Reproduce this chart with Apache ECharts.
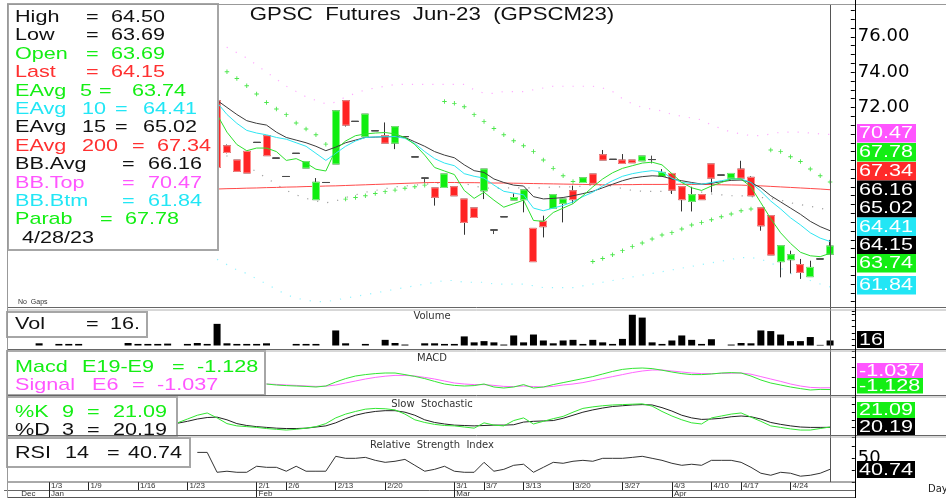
<!DOCTYPE html>
<html>
<head>
<meta charset="utf-8">
<script src="https://cdn.jsdelivr.net/npm/echarts@6.0.0/dist/echarts.min.js"></script>
<style>html,body{margin:0;padding:0;background:#fff;overflow:hidden}#chart{width:946px;height:498px}</style>
</head>
<body>
<div id="chart"></div>
<script>
// ================= DATA =================
const dates = ['12/26','12/27','12/28','12/29',
 '1/3','1/4','1/5','1/6','1/9','1/10','1/11','1/12','1/13','1/16','1/17','1/18','1/19','1/20','1/23','1/24','1/25','1/26','1/27','1/30','1/31',
 '2/1','2/2','2/3','2/6','2/7','2/8','2/9','2/10','2/13','2/14','2/15','2/16','2/17','2/20','2/21','2/22','2/23','2/24','2/27','2/28',
 '3/1','3/2','3/3','3/7','3/8','3/9','3/10','3/13','3/14','3/15','3/16','3/17','3/20','3/21','3/22','3/23','3/24','3/27','3/28','3/29','3/30','3/31',
 '4/3','4/4','4/5','4/7','4/10','4/11','4/12','4/17','4/18','4/19','4/20','4/21','4/24','4/25','4/26','4/27','4/28',
 '5/2','5/3'];
const dayTickLabels = ['1/3','1/9','1/16','1/23','2/1','2/6','2/13','2/20','3/1','3/7','3/13','3/20','3/27','4/3','4/10','4/17','4/24'];
const monthAnchors = ['12/27','1/3','2/1','3/1','4/3'];
const monthNames = ['Dec','Jan','Feb','Mar','Apr'];
const priceTickLabels = [72, 74, 76];
const rsiTickLabels = [50];

const priceStart = '1/26';
const candleOpen = [72.38,69.83,69.02,69.51,70.02,70.40,69.13,68.09,69.40,68.57,
 66.78,67.75,68.80,72.38,71.21,70.34,70.68,70.40,69.98,70.35,
 69.20,68.00,67.44,67.47,67.51,66.81,66.31,67.28,65.06,65.81,
 66.76,66.78,65.15,65.55,66.28,66.57,67.28,67.75,68.23,69.32,
 69.06,69.02,69.02,68.98,69.05,68.09,68.26,67.51,66.68,67.06,
 68.80,68.17,68.00,68.51,68.04,66.31,65.87,63.27,63.38,63.10,
 62.42,63.42,63.69];
const candleClose = [68.60,69.45,68.38,68.29,70.02,69.27,69.13,68.09,69.40,68.93,
 67.76,67.75,71.81,71.00,71.21,71.62,70.68,69.98,70.91,70.35,
 69.20,68.00,66.91,68.23,67.00,65.49,65.77,68.51,65.06,65.81,
 66.90,67.33,63.27,65.25,67.06,66.81,66.78,68.02,67.70,69.02,
 69.06,68.83,68.87,69.25,69.05,68.32,67.32,66.78,67.06,66.78,
 68.00,68.17,68.26,68.00,67.00,65.30,63.65,64.17,63.66,62.66,
 62.94,63.42,64.15];
const candleLow = [68.60,69.40,68.38,68.29,70.02,69.27,69.13,68.09,69.40,68.57,
 66.78,67.75,68.80,70.92,71.21,70.34,70.68,69.98,69.64,70.35,
 69.20,67.75,66.44,67.47,67.00,64.79,65.77,66.81,64.83,65.81,
 66.76,66.06,63.27,64.64,66.28,65.49,66.57,67.75,67.70,69.02,
 69.06,68.83,68.87,68.98,68.83,68.09,67.10,66.11,66.11,66.78,
 67.19,68.17,68.00,68.00,67.00,65.02,63.65,62.38,62.60,62.29,
 62.42,63.42,63.69];
const candleHigh = [72.40,69.90,69.02,69.51,70.02,70.40,69.13,68.09,69.40,68.93,
 68.00,67.75,71.85,72.38,71.21,71.62,70.68,71.15,70.91,70.35,
 69.20,68.00,67.44,68.23,67.51,66.81,66.31,68.51,65.06,65.81,
 67.13,67.33,65.15,65.87,67.06,66.81,67.57,68.02,68.23,69.59,
 69.06,69.36,69.02,69.25,69.27,68.51,68.26,67.51,67.51,67.06,
 68.80,68.17,68.26,68.98,68.10,66.31,65.87,64.17,63.89,63.42,
 63.32,63.42,64.50];
const ema5 = [71.60,70.60,69.90,69.55,69.70,69.70,69.50,69.00,69.10,68.85,
 68.50,68.40,69.60,70.10,70.40,70.50,70.55,70.58,70.50,70.30,
 69.90,69.30,68.60,68.40,68.20,67.30,66.85,67.20,66.75,66.35,
 66.55,66.75,65.60,65.55,66.05,66.30,66.55,67.00,67.50,67.95,
 68.30,68.55,68.70,68.85,68.90,68.75,68.25,67.75,67.45,67.30,
 67.55,67.75,67.95,67.95,67.50,66.60,65.70,64.90,64.30,63.80,
 63.60,63.55,63.74];
const ema10 = [72.28,71.60,71.10,70.70,70.55,70.45,70.30,70.20,70.00,69.80,
 69.40,69.00,69.40,69.80,70.10,70.30,70.33,70.34,70.35,70.25,
 69.95,69.50,69.10,68.85,68.70,68.25,68.10,68.00,67.60,67.25,
 67.15,67.05,66.30,66.15,66.30,66.45,66.65,66.95,67.20,67.55,
 67.85,68.10,68.25,68.35,68.42,68.35,68.00,67.75,67.70,67.65,
 67.75,67.85,67.95,67.95,67.75,67.25,66.70,66.25,65.75,65.35,
 64.90,64.60,64.41];
const ema15 = [72.40,72.00,71.60,71.25,71.10,71.00,70.60,70.30,70.15,70.00,
 69.80,69.55,69.75,70.00,70.15,70.30,70.32,70.34,70.35,70.30,
 70.05,69.80,69.50,69.30,69.15,68.75,68.42,68.32,67.95,67.75,
 67.60,67.55,66.95,66.82,66.85,66.90,67.00,67.12,67.25,67.45,
 67.65,67.85,68.00,68.08,68.13,68.10,67.95,67.85,67.75,67.66,
 67.70,67.80,67.87,67.89,67.75,67.45,67.00,66.65,66.30,65.95,
 65.55,65.25,65.02];
const ema200 = [67.38,67.40,67.41,67.43,67.44,67.46,67.47,67.49,67.50,67.52,
 67.53,67.55,67.56,67.58,67.60,67.62,67.64,67.66,67.68,67.70,
 67.72,67.74,67.75,67.75,67.75,67.74,67.74,67.73,67.72,67.72,
 67.71,67.70,67.69,67.68,67.67,67.66,67.65,67.64,67.63,67.62,
 67.62,67.63,67.63,67.64,67.64,67.64,67.65,67.65,67.64,67.64,
 67.63,67.62,67.61,67.60,67.58,67.56,67.53,67.50,67.47,67.44,
 67.41,67.38,67.34];
const bbTop = [75.60,75.40,75.10,74.80,74.40,74.00,73.60,73.20,72.90,72.60,
 72.40,72.20,72.30,72.60,72.80,73.00,73.10,73.20,73.30,73.30,
 73.30,73.30,73.30,73.30,73.30,73.30,73.00,72.80,72.80,72.90,
 72.90,72.90,73.00,73.10,73.20,73.20,73.20,73.20,73.20,73.10,
 72.90,72.50,72.20,72.00,71.90,71.80,71.60,71.50,71.40,71.30,
 71.00,70.80,70.60,70.50,70.40,70.40,70.50,70.60,70.60,70.60,
 70.55,70.50,70.47];
const bbAvg = [69.50,69.25,68.95,68.70,68.35,68.00,67.65,67.30,67.05,66.85,
 66.70,66.60,66.70,66.90,67.05,67.20,67.30,67.40,67.50,67.55,
 67.60,67.65,67.70,67.75,67.75,67.70,67.55,67.45,67.40,67.45,
 67.45,67.45,67.45,67.45,67.50,67.50,67.50,67.55,67.60,67.60,
 67.55,67.40,67.30,67.25,67.25,67.25,67.20,67.20,67.20,67.20,
 67.10,67.05,67.00,67.00,66.95,66.90,66.85,66.75,66.60,66.50,
 66.40,66.30,66.16];
const bbBtm = [63.40,63.10,62.80,62.60,62.30,62.00,61.70,61.40,61.20,61.10,
 61.00,61.00,61.10,61.20,61.30,61.40,61.50,61.60,61.70,61.80,
 61.90,62.00,62.10,62.20,62.20,62.10,62.10,62.10,62.00,62.00,
 62.00,62.00,61.90,61.80,61.80,61.80,61.80,61.90,62.00,62.10,
 62.20,62.30,62.40,62.50,62.60,62.70,62.80,62.90,63.00,63.10,
 63.20,63.30,63.40,63.50,63.50,63.40,63.20,62.90,62.60,62.40,
 62.20,62.00,61.84];
const parab = [null,74.02,73.64,73.23,72.76,72.28,71.91,71.59,71.12,70.78,
 70.45,69.92,null,66.81,66.90,67.00,67.13,67.23,67.32,67.42,
 67.51,67.60,null,72.34,72.23,72.04,71.59,71.21,70.81,70.45,
 70.11,69.83,69.51,69.02,68.55,68.13,67.81,null,63.28,63.45,
 63.66,63.89,64.12,64.32,64.55,64.78,64.91,65.12,65.34,65.49,
 65.64,65.81,65.97,66.15,66.25,null,69.59,69.51,69.21,68.94,
 68.51,68.13,67.78];

const volStart = '12/29';
const volume = [7,0,5,5,5,0,0,0,0,8,
 5,5,5,6,0,5,8,5,69,7,
 5,5,5,7,0,0,5,5,5,0,
 48,7,0,5,0,18,8,3,0,7,
 7,5,5,29,10,14,10,3,32,10,
 35,16,7,16,18,5,18,10,5,21,
 98,89,10,5,16,32,18,5,20,0,
 3,8,7,48,46,35,14,14,27,2,
 16];

const macdStart = '2/2';
const macdLine = [-0.85,-0.90,-0.93,-0.95,-0.97,-1.00,-0.95,-0.75,-0.58,-0.45,
 -0.38,-0.33,-0.30,-0.30,-0.38,-0.47,-0.58,-0.72,-0.85,-0.92,
 -0.95,-0.93,-0.85,-1.00,-1.05,-1.00,-0.88,-1.05,-1.00,-0.88,
 -0.78,-0.68,-0.58,-0.48,-0.35,-0.22,-0.12,-0.07,-0.05,-0.08,
 -0.16,-0.25,-0.33,-0.38,-0.38,-0.35,-0.30,-0.28,-0.30,-0.45,
 -0.65,-0.80,-0.90,-1.00,-1.08,-1.15,-1.12,-1.128];
const macdSignal = [-0.85,-0.87,-0.90,-0.92,-0.95,-0.97,-0.96,-0.90,-0.80,-0.70,
 -0.60,-0.52,-0.46,-0.42,-0.42,-0.45,-0.52,-0.60,-0.70,-0.80,
 -0.85,-0.88,-0.88,-0.92,-0.97,-0.98,-0.95,-0.98,-1.00,-0.97,
 -0.90,-0.85,-0.78,-0.68,-0.58,-0.48,-0.38,-0.28,-0.20,-0.15,
 -0.15,-0.20,-0.25,-0.30,-0.33,-0.33,-0.32,-0.31,-0.30,-0.36,
 -0.48,-0.60,-0.72,-0.85,-0.95,-1.02,-1.04,-1.037];

const stochStart = '1/20';
const stochK = [32,42,52,58,45,30,24,22,20,17,
 15,13,15,18,22,30,45,55,62,68,
 70,69,66,55,40,33,28,25,24,21,
 18,32,26,24,38,45,29,36,43,49,
 60,70,74,77,79,80,81,82,76,62,
 50,40,32,29,45,50,55,58,47,36,
 24,20,16,13,13,17,21.09];
const stochD = [31,36,42,46,47,40,30,25,22,20,
 18,17,17,18,21,24,32,43,52,58,
 62,64,64,60,52,40,33,29,26,25,
 24,25,26,26,27,34,36,37,38,44,
 52,60,66,71,75,77,79,80,79,72,
 63,52,45,41,42,44,48,50,48,42,
 33,28,24,21,20,20,20.19];

const rsiStart = '1/24';
const rsi14 = [55.0,55.0,38.2,39.1,38.2,38.2,43.3,42.4,42.4,39.1,
 43.3,39.1,39.1,39.1,51.7,50.0,50.0,50.8,48.3,46.6,
 47.5,49.1,44.1,39.1,40.7,43.3,39.1,38.2,38.2,46.6,
 39.1,40.7,44.1,45.0,38.2,42.4,46.6,45.8,47.5,48.3,
 47.5,50.0,50.0,50.0,50.8,51.7,50.0,48.3,45.8,44.1,
 45.0,44.1,48.3,48.3,48.3,46.6,42.4,37.4,35.7,38.2,
 37.4,34.9,35.7,37.4,40.74];

// ================= HELPERS =================
function pad(arr, start, empty) {
  const i0 = dates.indexOf(start);
  const out = dates.map(() => empty);
  arr.forEach((v, j) => { out[i0 + j] = (v === null ? empty : v); });
  return out;
}
const last = a => a[a.length - 1];
const f2 = v => v.toFixed(2);

const i0p = dates.indexOf(priceStart);
function candleItems(bodyOnly) {
  return dates.map((d, i) => {
    const j = i - i0p;
    if (j < 0 || j >= candleOpen.length) return ['-', '-', '-', '-'];
    const o = candleOpen[j], c = candleClose[j], l = candleLow[j], h = candleHigh[j];
    const val = bodyOnly ? [o, c, Math.min(o, c), Math.max(o, c)] : [o, c, l, h];
    if (o === c) {
      return { value: val, itemStyle: { color: '#4a4a4a', color0: '#4a4a4a', borderColor: '#4a4a4a', borderColor0: '#4a4a4a' } };
    }
    return val;
  });
}

const GREEN = '#14ee14', RED = '#ff3030', CYAN = '#22e6f5', MAG = '#ff55ff', BLK = '#111';
const SX = 1.27;
function T(x, y, s, color, size, extra) {
  return Object.assign({
    type: 'text', x: x, y: y, scaleX: SX, z: 60,
    style: { text: s, fill: color, fontSize: size || 17, fontFamily: 'Liberation Sans',
      align: 'left', verticalAlign: 'middle', textAlign: 'left', textVerticalAlign: 'middle' }
  }, extra || {});
}
function box(x, y, w, h) {
  return { type: 'rect', z: 50, shape: { x: x, y: y, width: w, height: h },
    style: { fill: '#fff', stroke: '#a6a6a6', lineWidth: 2 } };
}
function ln(x1, y1, x2, y2, color, z) {
  return { type: 'line', z: z || 70, silent: true, shape: { x1, y1, x2, y2 }, style: { stroke: color, lineWidth: 1 } };
}
function tag(text, bg, x, y, w, h) {
  return [
    { type: 'rect', z: 61, shape: { x: x, y: y, width: w, height: h }, style: { fill: bg } },
    T(x + 2, y + h / 2 + 0.5, text, '#fff', 17, { z: 62 })
  ];
}

// ================= GRAPHICS =================
const g = [];
g.push(box(8, 4, 210, 246));
const rowY = [17.3, 35.7, 54.1, 72.5, 90.9, 109.3, 127.7, 146.1, 164.5, 182.9, 201.3, 219.7, 238.1];
const legendRows = [
  [['High', 15], ['=', 86], [f2(last(candleHigh)), 111], BLK],
  [['Low', 15], ['=', 86], [f2(last(candleLow)), 111], BLK],
  [['Open', 15], ['=', 86], [f2(last(candleOpen)), 111], GREEN],
  [['Last', 15], ['=', 86], [f2(last(candleClose)), 111], RED],
  [['EAvg', 15], ['5', 80], ['=', 99], [f2(last(ema5)), 132], GREEN],
  [['EAvg', 15], ['10', 82], ['=', 115], [f2(last(ema10)), 143], CYAN],
  [['EAvg', 15], ['15', 82], ['=', 115], [f2(last(ema15)), 143], BLK],
  [['EAvg', 15], ['200', 82], ['=', 132], [f2(last(ema200)), 157], RED],
  [['BB.Avg', 15], ['=', 122], [f2(last(bbAvg)), 148], BLK],
  [['BB.Top', 15], ['=', 122], [f2(last(bbTop)), 148], MAG],
  [['BB.Btm', 15], ['=', 122], [f2(last(bbBtm)), 148], CYAN],
  [['Parab', 15], ['=', 100], [f2(last(parab)), 125], GREEN],
  [['4/28/23', 22], BLK]
];
legendRows.forEach((row, r) => {
  const color = row[row.length - 1];
  row.slice(0, -1).forEach(p => g.push(T(p[1], rowY[r], p[0], color)));
});
g.push(T(432, 15, 'GPSC  Futures  Jun-23  (GPSCM23)', '#111', 17.5, { style: { text: 'GPSC  Futures  Jun-23  (GPSCM23)', fill: '#111', fontSize: 17.5, fontFamily: 'Liberation Sans', align: 'center', verticalAlign: 'middle', textAlign: 'center', textVerticalAlign: 'middle' } }));
g.push({ type: 'text', x: 18, y: 302, z: 60, style: { text: 'No  Gaps', fill: '#333', fontSize: 7, fontFamily: 'Liberation Sans', verticalAlign: 'middle', textVerticalAlign: 'middle' } });

g.push(box(7, 312, 140, 25));
g.push(T(15, 324.5, 'Vol', BLK), T(86, 324.5, '=', BLK), T(110, 324.5, last(volume) + '.', BLK));
g.push(box(7, 351, 258, 44));
g.push(T(15, 367, 'Macd', GREEN), T(82, 367, 'E19-E9', GREEN), T(172, 367, '=', GREEN), T(197, 367, last(macdLine).toFixed(3), GREEN));
g.push(T(15, 385, 'Signal', MAG), T(92, 385, 'E6', MAG), T(132, 385, '=', MAG), T(157, 385, last(macdSignal).toFixed(3), MAG));
g.push(box(7, 397, 170, 40));
g.push(T(15, 412, '%K', GREEN), T(62, 412, '9', GREEN), T(87, 412, '=', GREEN), T(113, 412, f2(last(stochK)), GREEN));
g.push(T(15, 430, '%D', BLK), T(62, 430, '3', BLK), T(87, 430, '=', BLK), T(113, 430, f2(last(stochD)), BLK));
g.push(box(7, 438, 183, 29));
g.push(T(15, 453, 'RSI', BLK), T(65, 453, '14', BLK), T(107, 453, '=', BLK), T(128, 453, f2(last(rsi14)), BLK));

[['Volume', 316], ['MACD', 358], ['Slow  Stochastic', 404], ['Relative  Strength  Index', 445]].forEach(t => {
  g.push({ type: 'text', x: 432, y: t[1], z: 40, style: { text: t[0], fill: '#333', fontSize: 10, fontFamily: 'DejaVu Sans', align: 'center', verticalAlign: 'middle', textAlign: 'center', textVerticalAlign: 'middle' } });
});
g.push({ type: 'text', x: 928, y: 489, z: 40, style: { text: 'Day', fill: '#222', fontSize: 10, fontFamily: 'DejaVu Sans', verticalAlign: 'middle', textVerticalAlign: 'middle' } });

[[f2(last(bbTop)), MAG, 124], [f2(last(parab)), GREEN, 143], [f2(last(ema200)), '#ff2a2a', 162],
 [f2(last(bbAvg)), '#000', 180.5], [f2(last(ema15)), '#000', 199], [f2(last(ema10)), CYAN, 217.5],
 [f2(last(candleClose)), '#000', 236], [f2(last(ema5)), GREEN, 254], [f2(last(bbBtm)), CYAN, 276]
].forEach(t => tag(t[0], t[1], 857, t[2], 59, 18.5).forEach(e => g.push(e)));
tag(String(last(volume)), '#000', 857, 331, 27, 17).forEach(e => g.push(e));
tag(last(macdSignal).toFixed(3), MAG, 857, 363, 66, 15).forEach(e => g.push(e));
tag(last(macdLine).toFixed(3), GREEN, 857, 378, 66, 15.5).forEach(e => g.push(e));
tag(f2(last(stochK)), GREEN, 857, 402, 58, 16).forEach(e => g.push(e));
tag(f2(last(stochD)), '#000', 857, 418, 58, 17).forEach(e => g.push(e));
tag(f2(last(rsi14)), '#000', 857, 461, 58, 17).forEach(e => g.push(e));

g.push(ln(7, 4.5, 946, 4.5, '#999'));
[[307.5, '#666'], [310, '#b0b0b0'], [349.5, '#666'], [351, '#b0b0b0'], [395.5, '#666'], [397, '#b0b0b0'], [435.5, '#666'], [437, '#b0b0b0']]
  .forEach(s => g.push(ln(7, s[0], 946, s[0], s[1])));
g.push(ln(7, 482, 855, 482, '#555'));
g.push(ln(7, 497.5, 855, 497.5, '#555'));
g.push(ln(7.5, 4, 7.5, 498, '#999'));
g.push(ln(855.5, 0, 855.5, 498, '#000'));
g.push(ln(830.5, 5, 830.5, 482, '#555', 45));

// ================= OPTION =================
const L = 4.5, R = 91.2;
const grids = [
  { left: L, right: R, top: 5, height: 302 },
  { left: L, right: R, top: 311, height: 34.5 },
  { left: L, right: R, top: 351, height: 44 },
  { left: L, right: R, top: 397, height: 38 },
  { left: L, right: R, top: 437, height: 45 },
  { left: L, right: R, top: 482, height: 16 }
];
const xHidden = [0, 1, 2, 3, 4].map(i => ({ type: 'category', gridIndex: i, data: dates, boundaryGap: true, show: false }));
const isDay = (i, v) => dayTickLabels.indexOf(v) >= 0;
const isMonth = (i, v) => monthAnchors.indexOf(v) >= 0;
const isMonthTick = (i, v) => monthAnchors.indexOf(v) > 0;
const xDay = { type: 'category', gridIndex: 5, data: dates, boundaryGap: true, position: 'bottom', offset: -8,
  axisLine: { show: true, lineStyle: { color: '#666' } },
  axisTick: { show: true, inside: true, length: 8, alignWithLabel: true, interval: isDay, lineStyle: { color: '#222' } },
  axisLabel: { show: true, inside: true, interval: isDay, align: 'left', verticalAlign: 'bottom', margin: 0,
    fontSize: 8, fontFamily: 'Liberation Sans', color: '#333', padding: [0, 0, 0, 2] } };
const xMonth = { type: 'category', gridIndex: 5, data: dates, boundaryGap: true, position: 'bottom', offset: 0,
  axisLine: { show: false },
  axisTick: { show: true, inside: true, length: 16, alignWithLabel: true, interval: isMonthTick, lineStyle: { color: '#222' } },
  axisLabel: { show: true, inside: true, interval: isMonth, align: 'left', verticalAlign: 'bottom', margin: 0,
    fontSize: 8, fontFamily: 'Liberation Sans', color: '#333', padding: [0, 0, 0, 2],
    formatter: v => monthNames[monthAnchors.indexOf(v)] } };

const priceTicks = [];
for (let v = 61; v <= 77.5; v += 0.5) priceTicks.push(v);
function yAx(grid, min, max, extra) {
  return Object.assign({ type: 'value', gridIndex: grid, position: 'right', min: min, max: max,
    splitLine: { show: false },
    axisLine: { show: true, lineStyle: { color: '#000', width: 1 } },
    axisTick: { show: true, inside: true, length: 3, lineStyle: { color: '#000' } },
    axisLabel: { show: false } }, extra || {});
}
const yAxes = [
  yAx(0, 60.7, 77.8, {
    axisTick: { show: true, inside: true, length: 4, customValues: priceTicks, lineStyle: { color: '#000' } },
    axisLabel: { show: true, customValues: priceTickLabels, margin: 3, fontFamily: 'DejaVu Sans', fontSize: 18, color: '#000',
      formatter: v => priceTickLabels.indexOf(Math.round(v * 100) / 100) >= 0 ? f2(v) : '' } }),
  yAx(1, 0, 110),
  yAx(2, -1.4, 0.8),
  yAx(3, 0, 100),
  yAx(4, 30, 68, { axisLabel: { show: true, customValues: rsiTickLabels, margin: 3, fontFamily: 'DejaVu Sans', fontSize: 18, color: '#000',
      formatter: v => rsiTickLabels.indexOf(Math.round(v)) >= 0 && Math.abs(v - Math.round(v)) < 1e-6 ? String(v) : '' } }),
  { type: 'value', gridIndex: 5, show: false }
];

function lineS(xi, data, color, z, extra) {
  return Object.assign({ type: 'line', xAxisIndex: xi, yAxisIndex: xi, data: data, showSymbol: false, silent: true,
    lineStyle: { color: color, width: 1 }, z: z || 5 }, extra || {});
}
const bandStyle = c => ({ lineStyle: { color: c, width: 1.2, type: [1.2, 9], opacity: 0.7 } });

const series = [
  lineS(0, pad(bbTop, priceStart, null), MAG, 1, bandStyle('#ff88ff')),
  lineS(0, pad(bbAvg, priceStart, null), '#555', 1, bandStyle('#777')),
  lineS(0, pad(bbBtm, priceStart, null), CYAN, 1, bandStyle('#66eeff')),
  lineS(0, pad(ema200, priceStart, null), '#ff4a4a', 2),
  { type: 'candlestick', xAxisIndex: 0, yAxisIndex: 0, data: candleItems(false), barWidth: 7.5, silent: true, z: 3,
    itemStyle: { color: '#333', color0: '#333', borderColor: '#333', borderColor0: '#333', borderWidth: 1 } },
  { type: 'candlestick', xAxisIndex: 0, yAxisIndex: 0, data: candleItems(true), barWidth: 7.5, silent: true, z: 4,
    itemStyle: { color: '#10ee10', color0: '#ff2424', borderColor: '#7ff57f', borderColor0: '#ff8c8c', borderWidth: 1 } },
  lineS(0, pad(ema15, priceStart, null), '#3c3c3c', 5),
  lineS(0, pad(ema10, priceStart, null), '#2fe6f2', 5),
  lineS(0, pad(ema5, priceStart, null), '#2ee02e', 5),
  { type: 'scatter', xAxisIndex: 0, yAxisIndex: 0, data: pad(parab, priceStart, '-'), silent: true, z: 6,
    symbol: 'path://M2,0H3V2H5V3H3V5H2V3H0V2H2Z', symbolSize: 4.5, itemStyle: { color: '#1ee01e' } },
  { type: 'bar', xAxisIndex: 1, yAxisIndex: 1, data: pad(volume, volStart, '-'), barWidth: 7, silent: true,
    itemStyle: { color: '#000' } },
  lineS(2, pad(macdSignal, macdStart, null), '#ff66ff', 5),
  lineS(2, pad(macdLine, macdStart, null), '#33e633', 6),
  lineS(3, pad(stochD, stochStart, null), '#222', 5),
  lineS(3, pad(stochK, stochStart, null), '#33e633', 6),
  lineS(4, pad(rsi14, rsiStart, null), '#333', 5)
];

const chart = echarts.init(document.getElementById('chart'), null, { renderer: 'canvas' });
chart.setOption({
  animation: false,
  backgroundColor: '#fff',
  grid: grids,
  xAxis: xHidden.concat([xDay, xMonth]),
  yAxis: yAxes,
  series: series,
  graphic: { elements: g }
});
</script>
</body>
</html>
